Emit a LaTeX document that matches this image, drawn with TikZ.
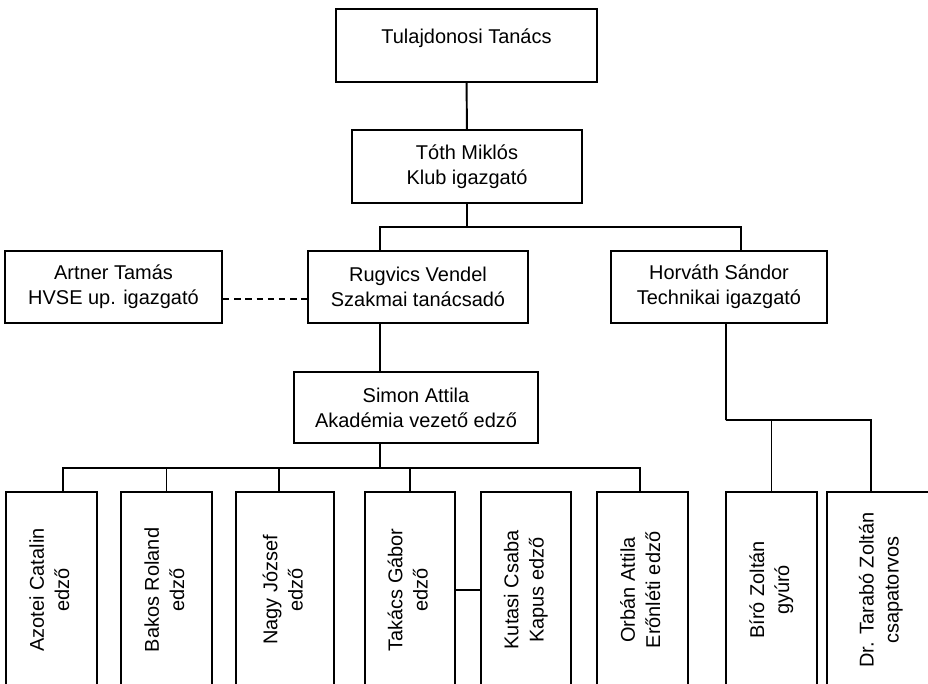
\documentclass[tikz,border=0pt]{standalone}
\usepackage{fontspec}
\setmainfont{Liberation Sans}
\usepackage{graphicx}
\tikzset{
  box/.style={draw, line width=1.4pt, align=center, inner sep=0pt, font=\fontsize{14.2}{17.8}\selectfont},
  vbox/.style={box, minimum height=4.9cm},
  link/.style={line width=1.4pt},
}
\begin{document}
\begin{tikzpicture}
\useasboundingbox (0,0) rectangle (23.2,17.075);
\clip (0,0) rectangle (23.2,17.075);

\node[box, minimum width=6.525cm, minimum height=1.825cm, text depth=0.45cm] (tanacs) at (11.6625,15.9375) {Tulajdonosi Tanács};
\node[box, minimum width=5.75cm, minimum height=1.825cm] (toth) at (11.675,12.9125) {Tóth Miklós\\Klub igazgató};

\node[box, minimum width=5.425cm, minimum height=1.8cm] (artner) at (2.8375,9.9) {Artner Tamás\\HVSE up. igazgató};
\node[box, minimum width=5.5cm, minimum height=1.8cm] (rugvics) at (10.45,9.9) {Rugvics Vendel\\Szakmai tanácsadó};
\node[box, minimum width=5.4cm, minimum height=1.8cm] (horvath) at (17.975,9.9) {Horváth Sándor\\Technikai igazgató};

\node[box, minimum width=6.1cm, minimum height=1.775cm] (simon) at (10.4,6.8875) {Simon Attila\\Akadémia vezető edző};

\node[vbox, minimum width=2.275cm] (azotei) at (1.2875,2.325) {\rotatebox{90}{\begin{tabular}{@{}c@{}}Azotei Catalin\\edző\end{tabular}}};
\node[vbox, minimum width=2.275cm] (bakos) at (4.1625,2.325) {\rotatebox{90}{\begin{tabular}{@{}c@{}}Bakos Roland\\edző\end{tabular}}};
\node[vbox, minimum width=2.45cm] (nagy) at (7.125,2.325) {\rotatebox{90}{\begin{tabular}{@{}c@{}}Nagy József\\edző\end{tabular}}};
\node[vbox, minimum width=2.25cm] (takacs) at (10.25,2.325) {\rotatebox{90}{\begin{tabular}{@{}c@{}}Takács Gábor\\edző\end{tabular}}};
\node[vbox, minimum width=2.25cm] (kutasi) at (13.15,2.325) {\rotatebox{90}{\begin{tabular}{@{}c@{}}Kutasi Csaba\\Kapus edző\end{tabular}}};
\node[vbox, minimum width=2.275cm] (orban) at (16.0625,2.325) {\rotatebox{90}{\begin{tabular}{@{}c@{}}Orbán Attila\\Erőnléti edző\end{tabular}}};
\node[vbox, minimum width=2.275cm] (biro) at (19.2875,2.325) {\rotatebox{90}{\begin{tabular}{@{}c@{}}Bíró Zoltán\\gyúró\end{tabular}}};
\node[vbox, minimum width=2.7cm] (tarabo) at (22.025,2.325) {\rotatebox{90}{\begin{tabular}{@{}c@{}}Dr. Tarabó Zoltán\\csapatorvos\end{tabular}}};

\coordinate (topbus) at (11.675,11.4);
\coordinate (acbus) at (9.5,5.375);
\coordinate (hbus) at (18.15,6.575);

\draw[link] (tanacs) -- (toth);
\draw[link] (toth) -- (topbus);
\draw[link] ([xshift=-9.5mm]rugvics.north) |- (topbus) -| ([xshift=5.5mm]horvath.north);
\draw[link, dashed, dash pattern=on 1.6mm off 1.2mm] ([yshift=-3mm]artner.east) -- ([yshift=-3mm]rugvics.west);
\draw[link] ([xshift=-9.5mm]rugvics.south) -- ([xshift=-9mm]simon.north);

\draw[link] ([xshift=-9mm]simon.south) -- (acbus);
\draw[link] ([xshift=2.9mm]azotei.north) |- (acbus) -| ([xshift=-0.6mm]orban.north);
\draw[link] (bakos.north) -- (bakos.north |- acbus);
\draw[link] ([xshift=-1.5mm]nagy.north) -- ([xshift=-1.5mm]nagy.north |- acbus);
\draw[link] (takacs.north) -- (takacs.north |- acbus);
\draw[link] (takacs) -- (kutasi);

\draw[link] ([xshift=1.75mm]horvath.south) |- (hbus) -| ([xshift=-2.5mm]tarabo.north);
\draw[link] (biro.north) -- (biro.north |- hbus);

\end{tikzpicture}
\end{document}
